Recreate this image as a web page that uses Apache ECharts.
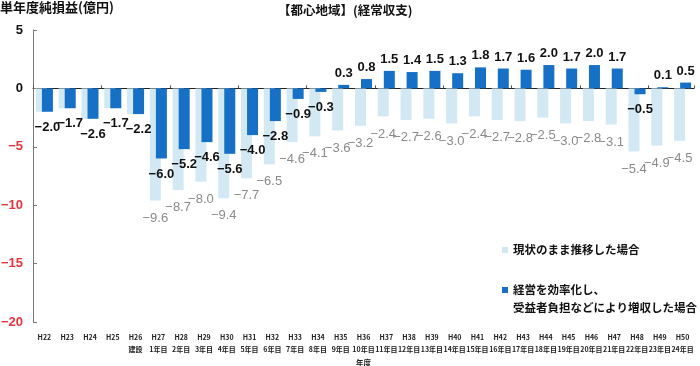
<!DOCTYPE html>
<html><head><meta charset="utf-8">
<script src="https://cdn.jsdelivr.net/npm/echarts@6/dist/echarts.min.js"></script>
<style>html,body{margin:0;padding:0;background:#fff}#c{width:700px;height:366px}</style>
</head><body><div id="c"></div>
<script>
const years = ['H22','H23','H24','H25','H26','H27','H28','H29','H30','H31','H32','H33','H34','H35','H36','H37','H38','H39','H40','H41','H42','H43','H44','H45','H46','H47','H48','H49','H50'];
const phases = ['','','','','建設','1年目','2年目','3年目','4年目','5年目','6年目','7年目','8年目','9年目','10年目','11年目','12年目','13年目','14年目','15年目','16年目','17年目','18年目','19年目','20年目','21年目','22年目','23年目','24年目'];
const baselineValues = [-2.0,-1.7,-2.6,-1.7,-2.2,-9.6,-8.7,-8.0,-9.4,-7.7,-6.5,-4.6,-4.1,-3.6,-3.2,-2.4,-2.7,-2.6,-3.0,-2.4,-2.7,-2.8,-2.5,-3.0,-2.8,-3.1,-5.4,-4.9,-4.5];
const improvedValues = [-2.0,-1.7,-2.6,-1.7,-2.2,-6.0,-5.2,-4.6,-5.6,-4.0,-2.8,-0.9,-0.3,0.3,0.8,1.5,1.4,1.5,1.3,1.8,1.7,1.6,2.0,1.7,2.0,1.7,-0.5,0.1,0.5];
const yTicks = {min:-20, max:5, interval:5};
const baselineName = '現状のまま推移した場合';
const improvedName = '経営を効率化し、\n受益者負担などにより増収した場合';

const numFont = '"Liberation Sans Narrow","Liberation Sans","Noto Sans CJK JP",sans-serif';
const jpFont = '"Noto Sans CJK JP",sans-serif';
const fmt = v => (v < 0 ? '−' + Math.abs(v).toFixed(1) : v.toFixed(1));

const cats = years.map((y,i) => phases[i] ? y + '\n' + phases[i] : y);

const baseData = baselineValues.map((v,i) => ({
  value: v,
  label: { show: i >= 5, position: v < 0 ? 'bottom' : 'top', distance: v < 0 ? 11 : 5 }
}));
const impData = improvedValues.map(v => ({
  value: v,
  label: { position: v < 0 ? 'bottom' : 'top', distance: v < 0 ? 9 : 5 }
}));

const chart = echarts.init(document.getElementById('c'), null, {renderer:'canvas'});
chart.setOption({
  animation: false,
  backgroundColor: '#fff',
  title: {
    text: '【都心地域】(経常収支)', left: 278, top: 4, padding: 0,
    textStyle: {fontFamily: jpFont, fontSize: 12.5, fontWeight: 'bold', color: '#111'}
  },
  graphic: [{
    type: 'text', left: 0, top: 1,
    style: {text: '単年度純損益(億円)', font: 'bold 13px "Noto Sans CJK JP"', fill: '#111'}
  }],
  legend: {
    orient: 'vertical', left: 502, top: 241, itemWidth: 6, itemHeight: 6, itemGap: 4,
    icon: 'rect', padding: 0,
    textStyle: {fontFamily: jpFont, fontSize: 11.5, color: '#111', fontWeight: 'bold', lineHeight: 18},
    formatter: name => (name === improvedName ? '\n' + name : name),
    data: [baselineName, improvedName]
  },
  grid: {left: 33, right: 6, top: 30, bottom: 44, outerBoundsMode: 'none', containLabel: false},
  xAxis: [{
    type: 'category', data: cats,
    axisLine: {onZero: true, lineStyle: {color: '#222', width: 1}},
    axisTick: {show: true, inside: true, length: 3, lineStyle: {color: '#555'}},
    axisLabel: {show: false}
  }, {
    type: 'category', data: cats, position: 'bottom',
    axisLine: {show: false}, axisTick: {show: false},
    axisLabel: {interval: 0, fontSize: 7, fontFamily: jpFont, fontWeight: 'bold', color: '#222', lineHeight: 12, margin: 9},
    name: '年度', nameLocation: 'middle', nameGap: 25,
    nameTextStyle: {fontSize: 7.5, fontFamily: jpFont, fontWeight: 'bold', color: '#222'}
  }],
  yAxis: {
    type: 'value', min: yTicks.min, max: yTicks.max, interval: yTicks.interval,
    axisLine: {show: true, lineStyle: {color: '#777'}},
    axisTick: {show: true, inside: true, length: 4, lineStyle: {color: '#777'}},
    splitLine: {show: false},
    axisLabel: {
      margin: 10, fontSize: 13, fontFamily: numFont, fontWeight: 'bold',
      color: v => (v < 0 ? '#e8323c' : '#111'),
      formatter: v => (v < 0 ? '−' + Math.abs(v) : String(v))
    }
  },
  series: [{
    name: baselineName, type: 'bar', data: baseData, xAxisIndex: 0,
    barWidth: 11, barGap: '-45%',
    itemStyle: {color: '#d2e8f3'},
    label: {show: true, fontSize: 13, fontFamily: numFont, color: '#8a8a8a',
      formatter: p => fmt(p.value)}
  }, {
    name: improvedName, type: 'bar', data: impData, xAxisIndex: 0,
    barWidth: 11, barGap: '-45%',
    itemStyle: {color: '#1670c6'},
    label: {show: true, fontSize: 13, fontFamily: numFont, fontWeight: 'bold', color: '#111',
      formatter: p => fmt(p.value)}
  }]
});
</script></body></html>
